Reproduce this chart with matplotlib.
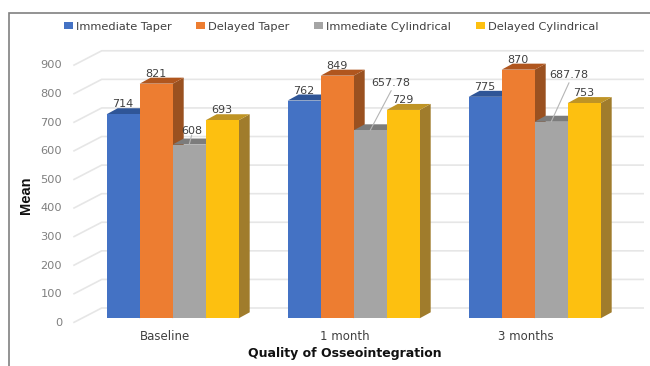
import matplotlib
matplotlib.use("Agg")
import matplotlib.pyplot as plt
from matplotlib.lines import Line2D
from matplotlib.patches import Patch

categories = ["Baseline", "1 month", "3 months"]
series_names = ["Immediate Taper", "Delayed Taper", "Immediate Cylindrical", "Delayed Cylindrical"]
immediate_taper = [714, 762, 775]
delayed_taper = [821, 849, 870]
immediate_cyl = [608, 657.78, 687.78]
delayed_cyl = [693, 729, 753]
y_ticks = [0, 100, 200, 300, 400, 500, 600, 700, 800, 900]

front_colors = ["#4472C4", "#ED7D31", "#A5A5A5", "#FDC010"]
top_colors = ["#2F5597", "#B0561E", "#7C7C7C", "#BF9425"]
side_colors = ["#2F5597", "#9A5120", "#7C7C7C", "#A07C2C"]

W, H = 650, 366
PX_PER_UNIT = 0.2858
BASE_PX = 318.3
GROUP_PX = 181.0
FIRST_CENTER_PX = 172.7


def px_x(p):
    return p / GROUP_PX


def px_y(p):
    return p / PX_PER_UNIT


fig = plt.figure(figsize=(W / 100, H / 100), dpi=100)
ax = fig.add_axes([0, 0, 1, 1])
ax.set_xlim(-FIRST_CENTER_PX / GROUP_PX, (W - FIRST_CENTER_PX) / GROUP_PX)
ax.set_ylim((BASE_PX - H) / PX_PER_UNIT, BASE_PX / PX_PER_UNIT)
ax.axis("off")

bar_w = px_x(33)
depth_x = px_x(11)
depth_y = px_y(6)

# back wall grid and the slanted floor lines running out to the tick labels
wall_left = px_x(101.7 - FIRST_CENTER_PX)
wall_right = px_x(644 - FIRST_CENTER_PX)
wall_shift = px_y(10.3)
tick_x = px_x(73.3 - FIRST_CENTER_PX)
tick_shift = px_y(-4.4)
for v in y_ticks:
    ax.plot([tick_x, wall_left, wall_right], [v + tick_shift, v + wall_shift, v + wall_shift],
            color="#E6E6E6", lw=1.2, zorder=1, solid_capstyle="butt")
    ax.annotate(str(v), xy=(px_x(62 - FIRST_CENTER_PX), v + tick_shift), ha="right", va="center",
                fontsize=8.2, color="#7F7F7F")

# bars are drawn left to right so each front covers the side of its neighbour
all_values = [immediate_taper, delayed_taper, immediate_cyl, delayed_cyl]
z = 2
for g in range(len(categories)):
    for s, values in enumerate(all_values):
        v = values[g]
        x0 = g + (s - 2) * bar_w
        x1 = x0 + bar_w
        ax.fill([x1, x1 + depth_x, x1 + depth_x, x1], [0, depth_y, v + depth_y, v],
                color=side_colors[s], lw=0, zorder=z)
        ax.fill([x0, x0 + depth_x, x1 + depth_x, x1], [v, v + depth_y, v + depth_y, v],
                color=top_colors[s], lw=0, zorder=z)
        ax.bar(x0, v, width=bar_w, align="edge", color=front_colors[s], lw=0, zorder=z)
        z += 1

# value labels, offsets in pixels from the bar's front top centre
label_offsets = {
    (0, 2): (2.5, 14), (1, 2): (20.5, 47), (2, 2): (17.5, 46.7), (2, 3): (-1, 10),
}
for g in range(len(categories)):
    for s, values in enumerate(all_values):
        v = values[g]
        cx = g + (s - 2) * bar_w + bar_w / 2
        off = label_offsets.get((g, s), (0, 10))
        ax.annotate(f"{v:g}", xy=(cx, v), xytext=off, textcoords="offset pixels",
                    ha="center", va="center", fontsize=8, color="#404040", zorder=50)

# leader lines from the grey bars up to their labels
leader_ends = [(2.5, 9.5), (21, 39.7), (17.8, 39)]
for g, end in enumerate(leader_ends):
    cx = g + bar_w / 2
    ax.annotate("", xy=(cx, immediate_cyl[g]), xytext=end, textcoords="offset pixels",
                arrowprops=dict(arrowstyle="-", color="#B5B5B5", lw=0.8, shrinkA=0, shrinkB=0), zorder=40)

for g, name in enumerate(categories):
    ax.annotate(name, xy=(g, 0), xytext=(-8 if g == 0 else -9, -18.5), textcoords="offset pixels",
                ha="center", va="center", fontsize=8.5, color="#404040")

handles = [Patch(color=c, lw=0) for c in front_colors]
ax.legend(handles, series_names, loc="center", bbox_to_anchor=(331 / W, 1 - 26.5 / H), ncol=4,
          frameon=False, fontsize=8.2, handlelength=0.8, handleheight=0.55, handletextpad=0.24,
          columnspacing=2.17, labelcolor="#404040", borderpad=0)

fig.text(345 / W, 1 - 354 / H, "Quality of Osseointegration", ha="center", va="center",
         fontsize=9, fontweight="bold", color="#111111")
fig.text(26.5 / W, 1 - 195 / H, "Mean", rotation=90, ha="center", va="center",
         fontsize=10.5, fontweight="bold", family="Liberation Sans", color="#111111")

# picture frame, open at the right and bottom
fig.add_artist(Line2D([1, 9 / W, 9 / W], [1 - 13 / H, 1 - 13 / H, 0], color="#808080", lw=1.2,
                      solid_joinstyle="miter"))

fig.savefig("out.png", dpi=100)
